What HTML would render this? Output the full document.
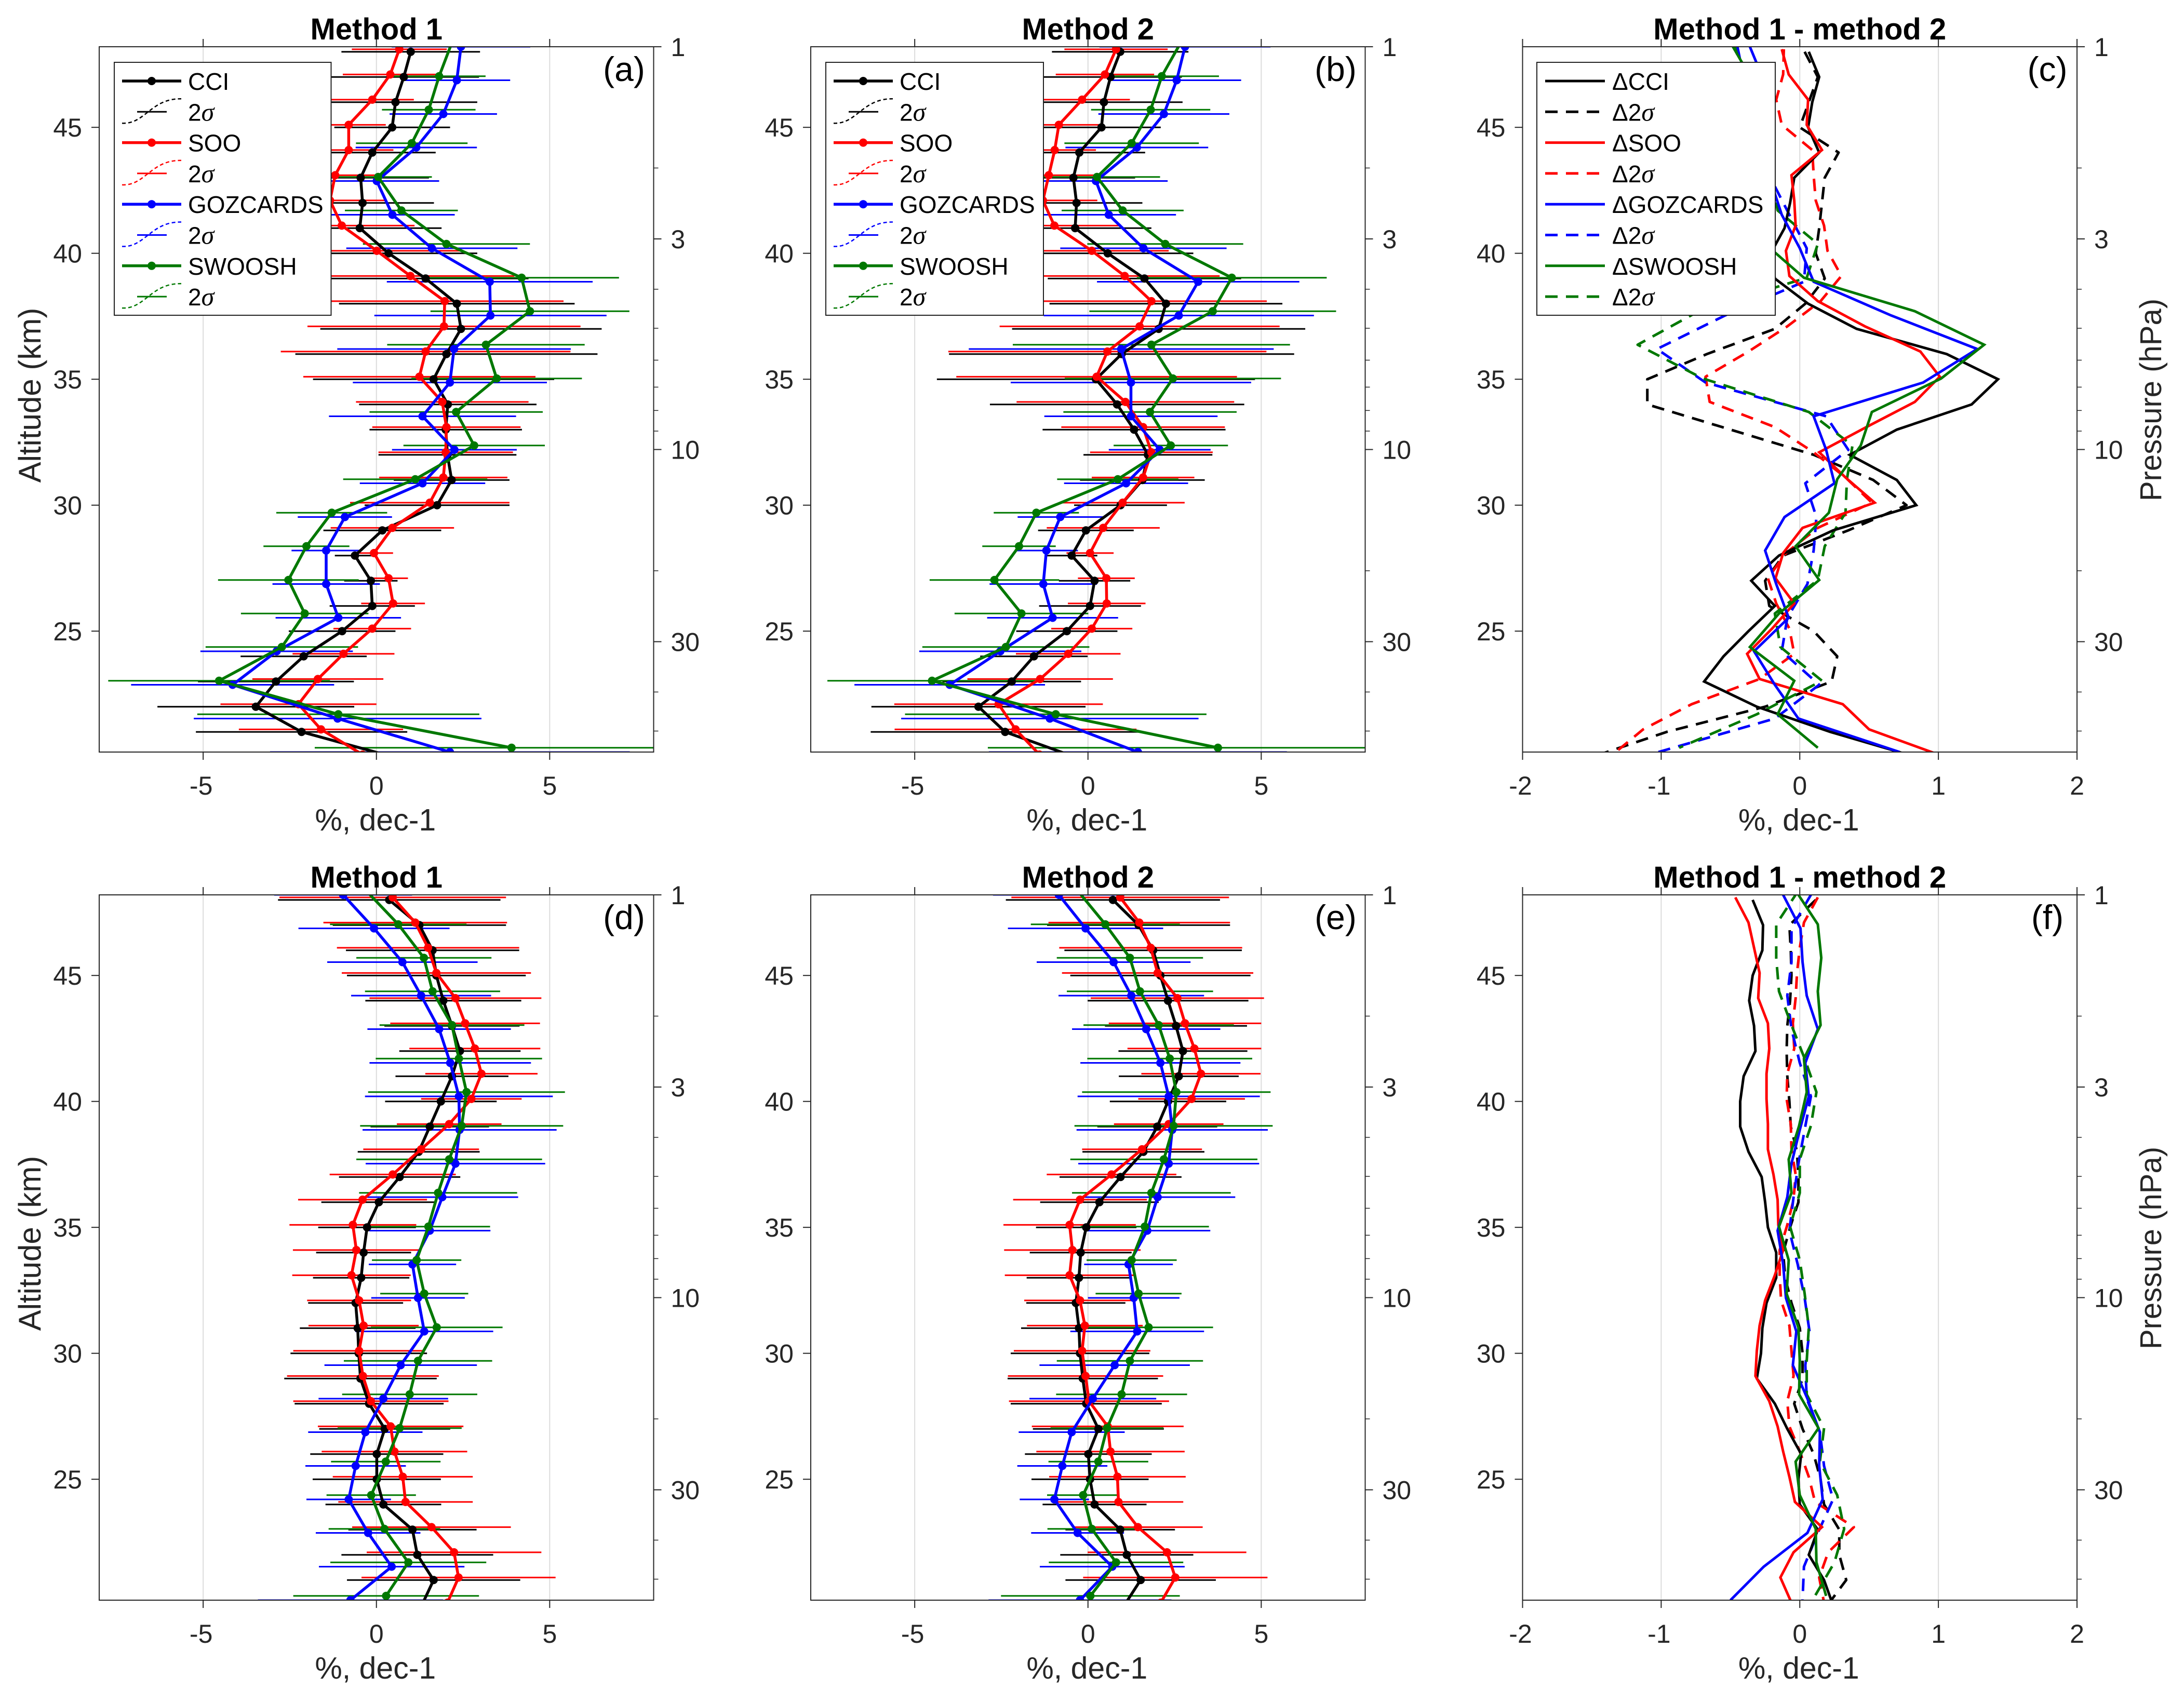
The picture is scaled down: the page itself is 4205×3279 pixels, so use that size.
<!DOCTYPE html>
<html lang="en">
<head>
<meta charset="utf-8">
<title>Ozone trend profiles: Method 1, Method 2 and differences</title>
<style>
html,body{margin:0;padding:0;background:#fff;}
svg{display:block;}
text{font-family:"Liberation Sans",sans-serif;}
</style>
</head>
<body>
<svg id="figure" xmlns="http://www.w3.org/2000/svg" width="4205" height="3279" viewBox="0 0 4205 3279"></svg>
<script>
// ---------- altitude levels (km) ----------
const altCCI = [48,47,46,45,44,43,42,41,40,39,38,37,36,35,34,33,32,31,30,29,28,27,26,25,24,23,22,21,20];
const altSOO = [48.1,47.1,46.1,45.1,44.1,43.1,42.1,41.1,40.1,39.1,38.1,37.1,36.1,35.1,34.1,33.1,32.1,31.1,30.1,29.1,28.1,27.1,26.1,25.1,24.1,23.1,22.1,21.1,20.1];
const altGOZ = [48.2,46.87,45.53,44.2,42.87,41.53,40.2,38.87,37.53,36.2,34.87,33.53,32.2,30.87,29.53,28.2,26.87,25.53,24.2,22.87,21.53,20.2];
const altSWO = [48.37,47.03,45.7,44.37,43.03,41.7,40.37,39.03,37.7,36.37,35.03,33.7,32.37,31.03,29.7,28.37,27.03,25.7,24.37,23.03,21.7,20.37];

// ---------- panel (a) ----------
const aCCI = [0.99,0.79,0.55,0.455,-0.12,-0.455,-0.40,-0.48,0.35,1.42,2.32,2.44,2.02,1.65,2.06,2.0,2.05,2.17,1.75,0.17,-0.62,-0.16,-0.12,-0.99,-2.1,-2.9,-3.48,-2.16,0.5];
const aCCIerr = [2.0,2.17,2.36,1.67,1.83,1.97,2.06,2.36,2.56,2.97,3.4,4.06,4.36,3.48,2.56,2.2,1.99,1.67,2.09,1.7,0.58,0.77,1.23,1.54,1.82,2.25,2.84,3.05,3.0];
const aSOO = [0.66,0.40,-0.12,-0.80,-0.80,-1.19,-1.34,-1.0,0.01,0.98,1.97,1.95,1.42,1.24,1.9,2.02,2.0,1.93,1.54,0.46,-0.07,0.35,0.48,-0.12,-0.95,-1.69,-2.25,-1.6,-0.4];
const aSOOerr = [1.37,1.37,1.2,1.07,1.29,1.26,1.6,2.1,2.44,3.0,3.43,3.94,4.18,3.35,2.49,2.14,1.94,1.85,2.3,1.78,0.55,0.56,0.92,1.12,1.47,1.89,2.25,2.37,2.4];
const aGOZ = [2.44,2.32,1.93,1.15,0.01,0.46,1.6,3.27,3.29,2.24,2.12,1.33,2.25,1.33,-0.91,-1.45,-1.45,-1.1,-2.88,-4.15,-1.12,2.12];
const aGOZerr = [2.0,1.54,1.55,1.75,1.8,1.8,2.47,2.97,3.35,3.37,2.8,2.7,1.8,1.81,1.36,1.0,1.55,1.81,2.2,2.93,4.15,5.19];
const aSWO = [2.18,1.81,1.51,1.02,0.05,0.72,2.02,4.19,4.43,3.16,3.47,2.3,2.82,1.12,-1.29,-2.02,-2.54,-2.07,-2.73,-4.54,-1.1,3.9];
const aSWOerr = [2.0,1.34,1.35,1.61,1.55,1.63,2.41,2.81,2.87,2.85,2.46,2.5,2.04,2.08,1.6,1.24,2.03,1.84,2.2,3.2,4.07,5.68];

// ---------- panel (b) ----------
const bCCI = [0.93,0.65,0.46,0.39,-0.25,-0.42,-0.33,-0.37,0.57,1.63,2.25,2.04,0.97,0.23,0.84,1.33,1.73,1.57,0.94,-0.06,-0.47,0.19,0.06,-0.61,-1.56,-2.2,-3.16,-2.39,-0.37];
const bCCIerr = [1.97,2.06,2.27,1.71,1.9,1.78,1.9,2.2,2.47,2.79,3.36,4.23,4.98,4.59,3.67,2.64,1.86,1.8,1.34,1.38,0.74,1.03,1.47,1.46,1.55,2.0,3.09,3.88,3.8];
const bSOO = [0.81,0.49,-0.17,-0.84,-0.96,-1.13,-1.3,-0.97,0.11,1.06,1.83,1.49,0.56,0.25,1.08,1.59,1.83,1.59,1.0,0.44,0.06,0.53,0.54,0.11,-0.57,-1.38,-2.58,-2.09,-1.4];
const bSOOerr = [1.49,1.42,1.38,1.23,1.19,1.43,1.57,1.87,2.22,2.74,3.33,4.04,4.59,4.05,3.14,2.36,1.77,1.48,1.79,1.63,0.68,0.82,1.12,1.17,1.51,2.1,3.01,3.49,3.4];
const bGOZ = [2.8,2.56,2.19,1.41,0.23,0.6,1.6,3.18,2.62,0.96,1.24,1.24,2.07,1.1,-0.8,-1.2,-1.29,-1.02,-2.53,-3.99,-1.1,1.44];
const bGOZerr = [2.47,1.86,1.89,2.06,2.07,1.94,2.4,2.92,3.9,4.4,3.47,2.5,1.47,1.79,1.23,0.91,1.55,1.89,2.34,2.75,4.29,4.3];
const bSWO = [2.68,2.13,1.81,1.26,0.26,1.0,2.23,4.15,3.6,1.83,2.45,1.79,2.39,0.86,-1.49,-1.99,-2.7,-1.92,-2.37,-4.5,-0.93,3.75];
const bSWOerr = [2.0,1.65,1.72,1.94,1.82,1.76,2.25,2.74,3.56,4.0,3.12,2.5,1.65,1.75,1.23,1.06,1.87,1.93,2.41,3.02,4.35,6.64];

// ---------- panel (c) ----------
const cCCI = [0.065,0.14,0.09,0.06,0.14,-0.04,-0.07,-0.11,-0.21,-0.18,0.06,0.41,1.06,1.43,1.24,0.7,0.36,0.7,0.84,0.24,-0.15,-0.35,-0.18,-0.37,-0.55,-0.69,-0.31,0.22,0.84];
const cCCI2s = [0.035,0.13,0.065,0.0,0.28,0.18,0.16,0.14,0.115,0.18,0.04,-0.18,-0.67,-1.1,-1.1,-0.5,0.1,0.53,0.77,0.35,-0.12,-0.25,-0.22,0.1,0.27,0.23,-0.25,-0.96,-1.5];
const cSOO = [-0.13,-0.08,0.06,0.05,0.16,-0.06,-0.04,-0.03,-0.1,-0.075,0.13,0.47,0.87,1.01,0.83,0.48,0.14,0.33,0.54,0.02,-0.12,-0.175,-0.04,-0.2,-0.38,-0.29,0.31,0.5,1.0];
const cSOO2s = [-0.115,-0.12,-0.17,-0.13,0.09,0.1,0.115,0.175,0.2,0.3,0.15,-0.09,-0.37,-0.68,-0.65,-0.18,0.1,0.33,0.52,0.13,-0.1,-0.23,-0.17,-0.075,-0.04,-0.29,-0.78,-1.13,-1.35];
const cGOZ = [-0.36,-0.26,-0.25,-0.25,-0.21,-0.13,0.0,0.1,0.66,1.28,0.89,0.1,0.19,0.25,-0.11,-0.25,-0.17,-0.08,-0.33,-0.18,-0.01,0.72];
const cGOZ2s = [-0.45,-0.4,-0.35,-0.3,-0.2,-0.075,0.05,0.03,-0.54,-1.03,-0.68,0.19,0.35,0.04,0.12,0.1,0.055,-0.09,-0.13,0.14,-0.18,-1.02];
const cSWO = [-0.5,-0.36,-0.3,-0.25,-0.2,-0.2,-0.25,0.03,0.83,1.33,1.02,0.52,0.44,0.27,0.21,-0.03,0.14,-0.15,-0.36,-0.04,-0.16,0.13];
const cSWO2s = [-0.48,-0.4,-0.35,-0.3,-0.2,-0.16,0.13,0.05,-0.73,-1.17,-0.7,0.065,0.38,0.34,0.33,0.18,0.13,-0.18,-0.14,0.16,-0.31,-0.87];

// ---------- panel (d) ----------
const dCCI = [0.37,1.24,1.62,1.73,1.93,2.18,2.41,2.18,1.86,1.54,1.22,0.67,0.07,-0.27,-0.37,-0.44,-0.6,-0.54,-0.51,-0.46,-0.21,0.24,0.01,0.01,0.2,1.04,1.18,1.65,1.31];
const dCCIerr = [3.21,2.5,2.5,2.58,2.25,1.95,1.75,1.63,1.61,1.71,1.76,1.75,1.66,1.41,1.37,1.39,1.37,1.67,1.97,2.2,2.15,1.89,1.92,1.85,1.67,1.85,2.19,2.5,2.5];
const dSOO = [0.47,1.12,1.49,1.73,2.28,2.56,2.84,3.03,2.74,2.1,1.29,0.47,-0.4,-0.68,-0.58,-0.72,-0.5,-0.37,-0.5,-0.39,-0.16,0.41,0.52,0.76,0.84,1.59,2.24,2.37,2.05];
const dSOOerr = [3.27,2.65,2.63,2.73,2.48,2.16,1.89,1.62,1.45,1.51,1.67,1.82,1.86,1.83,1.83,1.71,1.5,1.59,1.9,2.19,2.24,2.1,2.1,2.02,1.94,2.29,2.52,2.8,2.8];
const dGOZ = [-0.96,-0.07,0.75,1.29,1.81,2.13,2.38,2.4,2.28,1.9,1.54,1.04,1.2,1.38,0.7,0.2,-0.32,-0.6,-0.8,-0.24,0.44,-0.75];
const dGOZerr = [1.99,2.18,2.17,2.02,2.07,2.33,2.71,2.8,2.59,2.19,1.75,1.26,1.35,1.99,2.2,1.87,1.65,1.45,1.22,1.51,2.1,2.67];
const dSWO = [-0.3,0.63,1.37,1.62,2.18,2.38,2.6,2.46,2.1,1.78,1.5,1.16,1.38,1.74,1.2,0.96,0.67,0.27,-0.15,0.23,0.92,0.28];
const dSWOerr = [2.0,1.97,1.95,1.95,2.09,2.4,2.84,2.93,2.68,2.28,1.78,1.29,1.27,1.9,2.14,1.95,1.79,1.58,1.29,1.61,2.25,2.68];

// ---------- panel (e) ----------
const eCCI = [0.72,1.46,1.88,2.09,2.31,2.54,2.74,2.62,2.31,2.0,1.6,0.94,0.33,-0.05,-0.21,-0.26,-0.35,-0.26,-0.23,-0.15,-0.05,0.3,0.01,0.06,0.19,0.93,1.12,1.52,1.05];
const eCCIerr = [3.09,2.64,2.56,2.6,2.32,2.05,1.86,1.73,1.68,1.73,1.76,1.76,1.71,1.45,1.47,1.51,1.43,1.67,2.0,2.17,2.18,1.89,1.83,1.69,1.5,1.58,1.92,2.17,2.2];
const eSOO = [0.93,1.48,1.81,2.01,2.58,2.8,3.07,3.26,2.99,2.33,1.56,0.68,-0.23,-0.53,-0.45,-0.53,-0.23,-0.09,-0.17,-0.07,0.03,0.57,0.65,0.85,0.88,1.44,2.28,2.52,2.1];
const eSOOerr = [3.14,2.62,2.64,2.76,2.5,2.2,1.93,1.72,1.54,1.58,1.73,1.87,1.93,1.91,1.97,1.87,1.61,1.67,1.97,2.24,2.31,2.19,2.14,1.97,1.87,1.87,2.29,2.66,2.6];
const eGOZ = [-0.84,-0.07,0.74,1.25,1.68,2.09,2.33,2.43,2.33,2.01,1.71,1.17,1.32,1.42,0.77,0.14,-0.47,-0.74,-0.97,-0.3,0.7,-0.23];
const eGOZerr = [1.9,2.24,2.22,2.1,2.14,2.31,2.63,2.76,2.61,2.24,1.82,1.28,1.32,1.93,2.17,1.83,1.53,1.3,1.0,1.34,2.09,2.64];
const eSWO = [-0.3,0.5,1.21,1.5,2.04,2.36,2.55,2.47,2.19,1.83,1.64,1.26,1.46,1.75,1.21,0.97,0.55,0.3,-0.14,0.11,0.81,0.07];
const eSWOerr = [2.0,2.15,2.11,2.11,2.17,2.38,2.72,2.86,2.7,2.29,1.85,1.3,1.24,1.86,2.11,1.89,1.63,1.44,1.04,1.28,1.94,2.58];

// ---------- panel (f) ----------
const fCCI = [-0.34,-0.265,-0.27,-0.34,-0.365,-0.33,-0.32,-0.405,-0.43,-0.43,-0.37,-0.275,-0.25,-0.23,-0.17,-0.17,-0.24,-0.27,-0.28,-0.31,-0.18,-0.09,0.01,-0.01,0.0,0.13,0.065,0.175,0.24];
const fCCI2s = [0.115,-0.075,-0.065,-0.06,-0.07,-0.09,-0.095,-0.09,-0.075,-0.065,-0.02,-0.01,-0.01,-0.07,-0.12,-0.105,-0.06,0.0,0.02,0.02,-0.04,0.02,0.1,0.15,0.175,0.285,0.285,0.335,0.2];
const fSOO = [-0.465,-0.37,-0.33,-0.29,-0.3,-0.23,-0.22,-0.24,-0.24,-0.23,-0.23,-0.19,-0.16,-0.155,-0.12,-0.18,-0.25,-0.29,-0.31,-0.32,-0.22,-0.16,-0.12,-0.075,-0.035,0.16,-0.045,-0.14,-0.06];
const fSOO2s = [0.13,0.03,0.0,-0.02,-0.03,-0.05,-0.04,-0.09,-0.095,-0.065,-0.06,-0.03,-0.045,-0.09,-0.145,-0.145,-0.135,-0.075,-0.06,-0.045,-0.09,-0.075,0.0,0.065,0.11,0.39,0.205,0.14,0.175];
const fGOZ = [-0.12,0.005,0.02,0.05,0.13,0.04,0.065,0.0,-0.06,-0.09,-0.16,-0.12,-0.1,-0.025,-0.05,0.055,0.145,0.14,0.165,0.055,-0.26,-0.5];
const fGOZ2s = [0.08,-0.06,-0.06,-0.09,-0.06,0.0,0.08,0.035,-0.01,-0.045,-0.075,-0.015,0.035,0.07,0.04,0.05,0.145,0.175,0.24,0.13,0.03,0.02];
const fSWO = [-0.03,0.13,0.155,0.13,0.15,0.03,0.05,-0.005,-0.08,-0.06,-0.15,-0.08,-0.095,-0.01,0.0,-0.005,0.135,-0.03,0.0,0.115,0.12,0.19];
const fSWO2s = [-0.01,-0.17,-0.17,-0.15,-0.06,0.035,0.12,0.08,0.0,0.0,-0.07,0.0,0.035,0.065,0.05,0.05,0.175,0.145,0.27,0.32,0.25,0.11];

// ---------- axis tick values and labels ----------
const profileXTicks = [-5,0,5];
const diffXTicks = [-2,-1,0,1,2];
const diffGridTicks = [-1,0,1];
const altTicks = [25,30,35,40,45];
const pressureMajor = [1,3,10,30];
const pressureMinor = [2,4,5,6,7,8,9,20,40,50];
const seriesNames = ['CCI','SOO','GOZCARDS','SWOOSH'];
const seriesColors = ['#000000','#ff0000','#0000ff','#007800'];

const svg = document.getElementById('figure');
const NS = 'http://www.w3.org/2000/svg';
const FONT_TICK = 50, FONT_AXIS = 59, FONT_TITLE = 58, FONT_TAG = 66, FONT_LEG = 46;
const AXC = '#262626';

function mk(parent, tag, attrs, txt) {
  const el = document.createElementNS(NS, tag);
  for (const k in attrs) el.setAttribute(k, attrs[k]);
  if (txt !== undefined) el.textContent = txt;
  parent.appendChild(el);
  return el;
}

function sigmaLabel(parent, x, y, prefix) {
  const t = mk(parent, 'text', {x: x, y: y, 'font-size': FONT_LEG, fill: '#000'});
  mk(t, 'tspan', {}, prefix + '2');
  mk(t, 'tspan', {'font-family': '"Liberation Serif",serif', 'font-style': 'italic', 'font-size': FONT_LEG + 4}, 'σ');
  return t;
}

function drawPanel(cfg) {
  const L = cfg.left, T = cfg.top, W = cfg.width, H = 1358;
  const R = L + W, B = T + H;
  const sx = v => L + (v - cfg.xmin) / (cfg.xmax - cfg.xmin) * W;
  const sy = km => T + (48.2 - km) / 28 * H;
  const sp = p => T + Math.log10(p) * 775.5;

  const g = mk(svg, 'g', {});
  
  

  const clipId = 'clip-' + cfg.id;
  const defs = mk(g, 'defs', {});
  const cp = mk(defs, 'clipPath', {id: clipId});
  mk(cp, 'rect', {x: L, y: T, width: W, height: H});

  // gridlines
  cfg.grid.forEach(v => {
    const el = mk(g, 'line', {x1: sx(v), x2: sx(v), y1: T, y2: B, stroke: '#dcdcdc', 'stroke-width': 2});
    
    
  });

  // data
  const dg = mk(g, 'g', {'clip-path': 'url(#' + clipId + ')'});
  
  
  cfg.series.forEach((s, i) => {
    const col = seriesColors[i];
    const name = seriesNames[i].toLowerCase();
    if (s.err) {
      s.values.forEach((v, j) => {
        const bar = mk(dg, 'line', {x1: sx(v - s.err[j]), x2: sx(v + s.err[j]), y1: sy(s.alt[j]), y2: sy(s.alt[j]), stroke: col, 'stroke-width': 3});
        
        
      });
    }
    if (s.sigma) {
      const dl = mk(dg, 'polyline', {points: s.sigma.map((v, j) => sx(v) + ',' + sy(s.alt[j])).join(' '), fill: 'none', stroke: col, 'stroke-width': 5, 'stroke-dasharray': '24 16', 'stroke-linejoin': 'round'});
      
      
    }
  });
  cfg.series.forEach((s, i) => {
    const col = seriesColors[i];
    const name = seriesNames[i].toLowerCase();
    const ln = mk(dg, 'polyline', {points: s.values.map((v, j) => sx(v) + ',' + sy(s.alt[j])).join(' '), fill: 'none', stroke: col, 'stroke-width': cfg.markers ? 5.5 : 5, 'stroke-linejoin': 'miter'});
    
    
    if (cfg.markers) {
      s.values.forEach((v, j) => {
        const c = mk(dg, 'circle', {cx: sx(v), cy: sy(s.alt[j]), r: 8, fill: col});
        
        
      });
    }
  });

  // frame
  const frame = mk(g, 'rect', {x: L, y: T, width: W, height: H, fill: 'none', stroke: AXC, 'stroke-width': 2});
  
  

  // x ticks + labels
  cfg.xticks.forEach(v => {
    const t1 = mk(g, 'line', {x1: sx(v), x2: sx(v), y1: B, y2: B + 15, stroke: AXC, 'stroke-width': 2});
    
    
    const t2 = mk(g, 'line', {x1: sx(v), x2: sx(v), y1: T, y2: T - 15, stroke: AXC, 'stroke-width': 2});
    
    
    const lb = mk(g, 'text', {x: sx(v) - (v < 0 ? 4 : 0), y: B + 82, 'font-size': FONT_TICK, 'text-anchor': 'middle', fill: AXC}, String(v));
    
    
  });
  const xt = mk(g, 'text', {x: L + W / 2 - 2, y: B + 151, 'font-size': FONT_AXIS, 'text-anchor': 'middle', fill: AXC}, '%, dec-1');
  
  

  // altitude ticks + labels
  altTicks.forEach(v => {
    const t = mk(g, 'line', {x1: L - 15, x2: L, y1: sy(v), y2: sy(v), stroke: AXC, 'stroke-width': 2});
    
    
    const lb = mk(g, 'text', {x: L - 33, y: sy(v) + 18, 'font-size': FONT_TICK, 'text-anchor': 'end', fill: AXC}, String(v));
    
    
  });

  // pressure ticks + labels
  pressureMajor.forEach(p => {
    const t = mk(g, 'line', {x1: R, x2: R + 15, y1: sp(p), y2: sp(p), stroke: AXC, 'stroke-width': 2});
    
    
    const lb = mk(g, 'text', {x: R + 33, y: sp(p) + 18, 'font-size': FONT_TICK, fill: AXC}, String(p));
    
    
  });
  pressureMinor.forEach(p => {
    const t = mk(g, 'line', {x1: R, x2: R + 9, y1: sp(p), y2: sp(p), stroke: AXC, 'stroke-width': 1.5});
    
    
  });

  // title + tag
  const tl = mk(g, 'text', {x: L + W / 2, y: T - 14, 'font-size': FONT_TITLE, 'font-weight': 'bold', 'text-anchor': 'middle', fill: '#000'}, cfg.title);
  
  
  const tag = mk(g, 'text', {x: R - 57, y: T + 66, 'font-size': FONT_TAG, 'text-anchor': 'middle', fill: '#000'}, '(' + cfg.id + ')');
  
  

  if (cfg.altTitle) {
    const at = mk(g, 'text', {transform: 'translate(78,' + (T + 671) + ') rotate(-90)', 'font-size': 60, 'text-anchor': 'middle', fill: AXC}, 'Altitude (km)');
    
    
  }
  if (cfg.pressTitle) {
    const pt = mk(g, 'text', {transform: 'translate(4161,' + (T + 680) + ') rotate(-90)', 'font-size': 58, 'text-anchor': 'middle', fill: AXC}, 'Pressure (hPa)');
    
    
  }

  if (cfg.legend) drawLegend(g, cfg);
}

function drawLegend(g, cfg) {
  const X = cfg.left + cfg.legend.dx, Y = 120, W = cfg.legend.w, H = 487;
  const lg = mk(g, 'g', {});
  
  
  mk(lg, 'rect', {x: X, y: Y, width: W, height: H, fill: '#fff', stroke: '#222', 'stroke-width': 2});
  const isDelta = cfg.legend.delta;
  const textX = X + (isDelta ? 145 : 142);
  seriesNames.forEach((nm, i) => {
    const col = seriesColors[i];
    const y1 = Y + 36 + i * 118.6, y2 = y1 + 59.3;
    const e1 = mk(lg, 'g', {});
    
    
    if (isDelta) {
      mk(e1, 'line', {x1: X + 16, x2: X + 131, y1: y1, y2: y1, stroke: col, 'stroke-width': 5});
    } else {
      mk(e1, 'line', {x1: X + 15, x2: X + 129, y1: y1, y2: y1, stroke: col, 'stroke-width': 5.5});
      mk(e1, 'circle', {cx: X + 72, cy: y1, r: 8, fill: col});
    }
    mk(e1, 'text', {x: textX, y: y1 + 17, 'font-size': FONT_LEG, fill: '#000'}, (isDelta ? 'Δ' : '') + nm);
    const e2 = mk(lg, 'g', {});
    
    
    if (isDelta) {
      mk(e2, 'line', {x1: X + 16, x2: X + 131, y1: y2, y2: y2, stroke: col, 'stroke-width': 5, 'stroke-dasharray': '24 16'});
    } else {
      mk(e2, 'path', {d: 'M' + (X + 15) + ' ' + (y2 + 22) + ' C' + (X + 60) + ' ' + (y2 + 24) + ' ' + (X + 70) + ' ' + (y2 - 26) + ' ' + (X + 129) + ' ' + (y2 - 25), fill: 'none', stroke: col, 'stroke-width': 2.5, 'stroke-dasharray': '7 5'});
      mk(e2, 'line', {x1: X + 44, x2: X + 101, y1: y2, y2: y2, stroke: col, 'stroke-width': 3});
    }
    sigmaLabel(e2, textX, y2 + 17, isDelta ? 'Δ' : '');
  });
}

function profileSeries(c, ce, s, se, g, ge, w, we) {
  return [
    {alt: altCCI, values: c, err: ce},
    {alt: altSOO, values: s, err: se},
    {alt: altGOZ, values: g, err: ge},
    {alt: altSWO, values: w, err: we}
  ];
}
function diffSeries(c, c2, s, s2, g, g2, w, w2) {
  return [
    {alt: altCCI, values: c, sigma: c2},
    {alt: altSOO, values: s, sigma: s2},
    {alt: altGOZ, values: g, sigma: g2},
    {alt: altSWO, values: w, sigma: w2}
  ];
}

const profileBase = {width: 1067.5, xmin: -8, xmax: 8, xticks: profileXTicks, grid: profileXTicks, markers: true};
const diffBase = {left: 2931.5, width: 1067.5, xmin: -2, xmax: 2, xticks: diffXTicks, grid: diffGridTicks, markers: false};

drawPanel(Object.assign({}, profileBase, {id: 'a', left: 191, top: 90, title: 'Method 1', altTitle: true,
  series: profileSeries(aCCI, aCCIerr, aSOO, aSOOerr, aGOZ, aGOZerr, aSWO, aSWOerr), legend: {dx: 29, w: 417.5}}));
drawPanel(Object.assign({}, profileBase, {id: 'b', left: 1561, top: 90, title: 'Method 2',
  series: profileSeries(bCCI, bCCIerr, bSOO, bSOOerr, bGOZ, bGOZerr, bSWO, bSWOerr), legend: {dx: 29, w: 419}}));
drawPanel(Object.assign({}, diffBase, {id: 'c', top: 90, title: 'Method 1 - method 2', pressTitle: true,
  series: diffSeries(cCCI, cCCI2s, cSOO, cSOO2s, cGOZ, cGOZ2s, cSWO, cSWO2s), legend: {dx: 27.5, w: 459, delta: true}}));
drawPanel(Object.assign({}, profileBase, {id: 'd', left: 191, top: 1723, title: 'Method 1', altTitle: true,
  series: profileSeries(dCCI, dCCIerr, dSOO, dSOOerr, dGOZ, dGOZerr, dSWO, dSWOerr)}));
drawPanel(Object.assign({}, profileBase, {id: 'e', left: 1561, top: 1723, title: 'Method 2',
  series: profileSeries(eCCI, eCCIerr, eSOO, eSOOerr, eGOZ, eGOZerr, eSWO, eSWOerr)}));
drawPanel(Object.assign({}, diffBase, {id: 'f', top: 1723, title: 'Method 1 - method 2', pressTitle: true,
  series: diffSeries(fCCI, fCCI2s, fSOO, fSOO2s, fGOZ, fGOZ2s, fSWO, fSWO2s)}));
</script>
</body>
</html>
